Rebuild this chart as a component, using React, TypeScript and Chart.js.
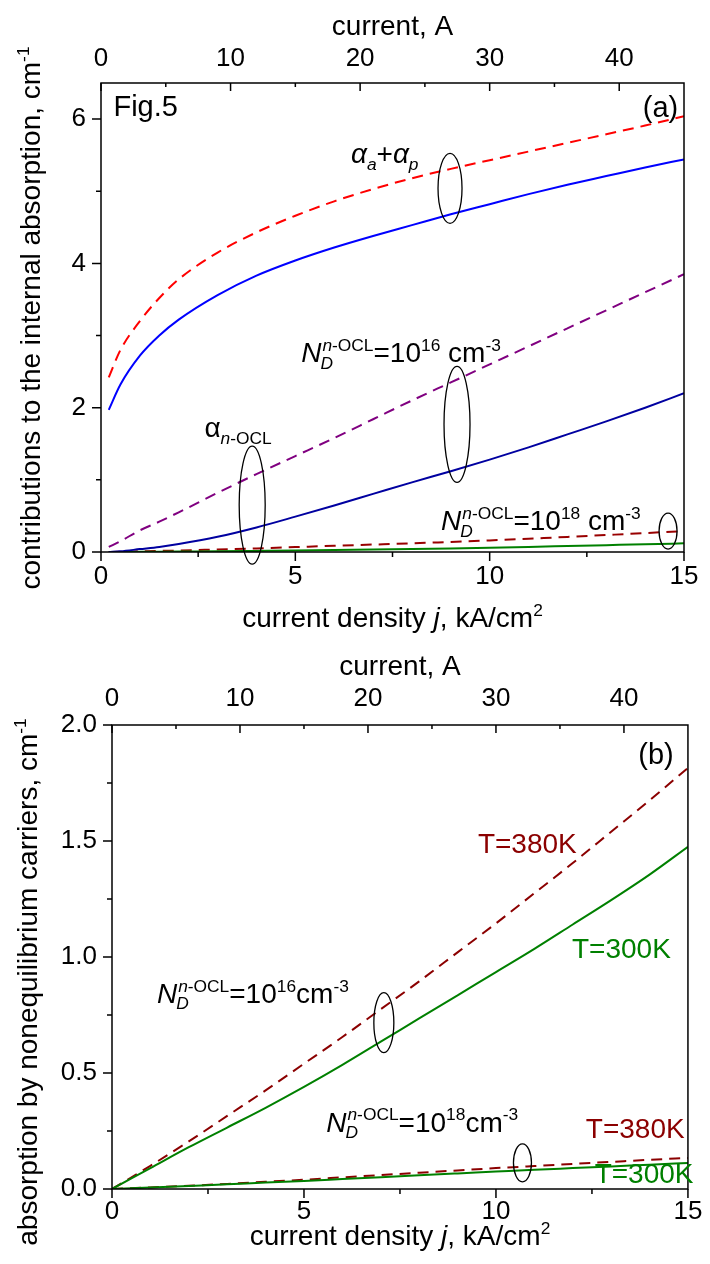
import React, { useEffect, useRef } from 'react';
import { Chart, registerables } from 'chart.js';

Chart.register(...registerables);

const FONT = "'Liberation Sans', Arial, Helvetica, sans-serif";
const TICK_SIZE = 26;
const TEXT_SIZE = 28;

// ---------- Panel (a) data: x = current density j, kA/cm^2 ----------
const jA = [0.2, 0.5, 1, 1.5, 2, 3, 4, 5, 6, 7, 8, 9, 10, 11, 12, 13, 14, 15];
const aTotalDashed = [2.42, 2.8, 3.2, 3.52, 3.78, 4.15, 4.43, 4.66, 4.86, 5.03, 5.18, 5.31, 5.43, 5.55, 5.67, 5.79, 5.91, 6.04];
const aTotalSolid = [1.97, 2.32, 2.72, 3.0, 3.22, 3.56, 3.83, 4.04, 4.22, 4.38, 4.53, 4.68, 4.82, 4.96, 5.09, 5.21, 5.33, 5.44];
const aN16Dashed = [0.07, 0.15, 0.3, 0.42, 0.55, 0.82, 1.08, 1.33, 1.58, 1.84, 2.1, 2.35, 2.6, 2.85, 3.1, 3.35, 3.6, 3.85];
const aN16Solid = [0, 0.01, 0.04, 0.07, 0.11, 0.21, 0.34, 0.49, 0.645, 0.805, 0.965, 1.12, 1.28, 1.45, 1.63, 1.81, 2.0, 2.2];
const aN18Dashed = [0, 0.005, 0.01, 0.015, 0.02, 0.035, 0.05, 0.068, 0.086, 0.103, 0.12, 0.14, 0.16, 0.184, 0.209, 0.235, 0.262, 0.29];
const aN18Solid = [0, 0, 0.002, 0.004, 0.006, 0.01, 0.015, 0.02, 0.026, 0.033, 0.041, 0.05, 0.06, 0.071, 0.083, 0.095, 0.107, 0.12];

// ---------- Panel (b) data ----------
const jB = [0, 1, 2, 3, 4, 5, 6, 7, 8, 9, 10, 11, 12, 13, 14, 15];
const b16T380 = [0, 0.1, 0.205, 0.315, 0.425, 0.54, 0.655, 0.775, 0.895, 1.02, 1.145, 1.275, 1.405, 1.54, 1.675, 1.815];
const b16T300 = [0, 0.09, 0.18, 0.265, 0.35, 0.44, 0.535, 0.635, 0.735, 0.835, 0.935, 1.035, 1.14, 1.245, 1.355, 1.475];
const b18T380 = [0, 0.007, 0.014, 0.022, 0.031, 0.04, 0.05, 0.06, 0.07, 0.08, 0.09, 0.099, 0.108, 0.117, 0.126, 0.134];
const b18T300 = [0, 0.006, 0.013, 0.02, 0.028, 0.035, 0.043, 0.051, 0.059, 0.067, 0.075, 0.083, 0.09, 0.097, 0.105, 0.112];

// ---------- Axis ticks ----------
const jMajor = [0, 5, 10, 15];
const jMinor = [2.5, 7.5, 12.5];
const curMajor = [0, 10, 20, 30, 40];
const curMinor = [5, 15, 25, 35];
const aYMajor = [0, 2, 4, 6];
const aYMinor = [1, 3, 5];
const bYMajor = [0, 0.5, 1.0, 1.5, 2.0];
const bYMinor = [0.25, 0.75, 1.25, 1.75];

// ---------- rich text ----------
type Seg = { t: string; it?: boolean; pos?: 'sub' | 'sup' };
type Stack = { stack: true; sub: Seg[]; sup: Seg[] };
type Item = Seg | Stack;

const SUBR = 0.62;
function segFont(s: Seg, base: number) {
  const size = s.pos ? base * SUBR : base;
  return `${s.it ? 'italic ' : ''}${size}px ${FONT}`;
}
function segDy(s: Seg, base: number) {
  return s.pos === 'sub' ? base * 0.24 : s.pos === 'sup' ? -base * 0.4 : 0;
}
function segsWidth(ctx: CanvasRenderingContext2D, segs: Seg[], base: number) {
  let w = 0;
  for (const s of segs) {
    ctx.font = segFont(s, base);
    w += ctx.measureText(s.t).width;
  }
  return w;
}
function itemsWidth(ctx: CanvasRenderingContext2D, items: Item[], base: number) {
  let w = 0;
  for (const it of items) {
    if ('stack' in it) w += Math.max(segsWidth(ctx, it.sub, base), segsWidth(ctx, it.sup, base));
    else w += segsWidth(ctx, [it], base);
  }
  return w;
}
function drawSegs(ctx: CanvasRenderingContext2D, segs: Seg[], x: number, y: number, base: number) {
  let cx = x;
  for (const s of segs) {
    ctx.font = segFont(s, base);
    ctx.fillText(s.t, cx, y + segDy(s, base));
    cx += ctx.measureText(s.t).width;
  }
  return cx - x;
}
function drawRich(
  ctx: CanvasRenderingContext2D,
  items: Item[],
  x: number,
  y: number,
  base: number,
  color: string,
  align: 'left' | 'center' | 'right'
) {
  const w = itemsWidth(ctx, items, base);
  let cx = align === 'center' ? x - w / 2 : align === 'right' ? x - w : x;
  ctx.save();
  ctx.fillStyle = color;
  ctx.textAlign = 'left';
  ctx.textBaseline = 'alphabetic';
  for (const it of items) {
    if ('stack' in it) {
      const w1 = drawSegs(ctx, it.sub, cx - 1, y, base);
      const w2 = drawSegs(ctx, it.sup, cx + 1, y, base);
      cx += Math.max(w1, w2) + 1;
    } else {
      cx += drawSegs(ctx, [it], cx, y, base);
    }
  }
  ctx.restore();
}

const nd = (exp: string, space: boolean): Item[] => [
  { t: 'N', it: true },
  {
    stack: true,
    sub: [{ t: 'D', it: true, pos: 'sub' }],
    sup: [{ t: 'n', it: true, pos: 'sup' }, { t: '-OCL', pos: 'sup' }],
  },
  { t: '=10' },
  { t: exp, pos: 'sup' },
  { t: space ? ' cm' : 'cm' },
  { t: '-3', pos: 'sup' },
];

type Note = { x: number; y: number; items: Item[]; align: 'left' | 'center' | 'right'; color: string; size: number };
type Ell = { x: number; y: number; rx: number; ry: number };

const DARKRED = '#8B0000';
const GREEN = '#008000';

const notesA: Note[] = [
  { x: 0.32, y: 6.045, items: [{ t: 'Fig.5' }], align: 'left', color: '#000', size: 29 },
  { x: 14.85, y: 6.03, items: [{ t: '(a)' }], align: 'right', color: '#000', size: 29 },
  {
    x: 6.43,
    y: 5.39,
    items: [
      { t: 'α', it: true },
      { t: 'a', it: true, pos: 'sub' },
      { t: '+' },
      { t: 'α', it: true },
      { t: 'p', it: true, pos: 'sub' },
    ],
    align: 'left',
    color: '#000',
    size: TEXT_SIZE,
  },
  { x: 5.15, y: 2.63, items: nd('16', true), align: 'left', color: '#000', size: TEXT_SIZE },
  {
    x: 2.66,
    y: 1.59,
    items: [{ t: 'α' }, { t: 'n', it: true, pos: 'sub' }, { t: '-OCL', pos: 'sub' }],
    align: 'left',
    color: '#000',
    size: TEXT_SIZE,
  },
  { x: 8.75, y: 0.3, items: nd('18', true), align: 'left', color: '#000', size: TEXT_SIZE },
];
const ellA: Ell[] = [
  { x: 8.98, y: 5.04, rx: 12, ry: 35 },
  { x: 9.16, y: 1.77, rx: 13, ry: 58 },
  { x: 3.89, y: 0.65, rx: 13, ry: 59 },
  { x: 14.59, y: 0.29, rx: 9, ry: 18 },
];

const notesB: Note[] = [
  { x: 14.63, y: 1.83, items: [{ t: '(b)' }], align: 'right', color: '#000', size: 29 },
  { x: 9.53, y: 1.45, items: [{ t: 'T=380K' }], align: 'left', color: DARKRED, size: TEXT_SIZE },
  { x: 11.98, y: 0.997, items: [{ t: 'T=300K' }], align: 'left', color: GREEN, size: TEXT_SIZE },
  { x: 1.17, y: 0.803, items: nd('16', false), align: 'left', color: '#000', size: TEXT_SIZE },
  { x: 5.58, y: 0.247, items: nd('18', false), align: 'left', color: '#000', size: TEXT_SIZE },
  { x: 12.34, y: 0.221, items: [{ t: 'T=380K' }], align: 'left', color: DARKRED, size: TEXT_SIZE },
  { x: 12.57, y: 0.027, items: [{ t: 'T=300K' }], align: 'left', color: GREEN, size: TEXT_SIZE },
];
const ellB: Ell[] = [
  { x: 7.08, y: 0.717, rx: 10, ry: 30 },
  { x: 10.69, y: 0.113, rx: 9, ry: 19 },
];

const xTitle: Item[] = [{ t: 'current density ' }, { t: 'j', it: true }, { t: ', kA/cm' }, { t: '2', pos: 'sup' }];
const topTitle: Item[] = [{ t: 'current, A' }];
const yTitleA: Item[] = [{ t: 'contributions to the internal absorption, cm' }, { t: '-1', pos: 'sup' }];
const yTitleB: Item[] = [{ t: 'absorption by nonequilibrium carriers, cm' }, { t: '-1', pos: 'sup' }];

type PanelSpec = {
  height: number;
  yMax: number;
  yStep: number;
  yFmt: (v: number) => string;
  yMajor: number[];
  yMinor: number[];
  left: number;
  right: number;
  topH: number;
  bottomH: number;
  padBottomTicks: number;
  padTopTicks: number;
  datasets: any[];
  notes: Note[];
  ellipses: Ell[];
  topTitleY: number;
  bottomTitleY: number;
  yTitle: Item[];
  yTitleX: number;
  yTitleCY: number;
};

function decorPlugin(spec: PanelSpec) {
  return {
    id: 'decor',
    afterDraw(chart: any) {
      const ctx: CanvasRenderingContext2D = chart.ctx;
      const area = chart.chartArea;
      const sx = chart.scales.x;
      const sx2 = chart.scales.x2;
      const sy = chart.scales.y;
      ctx.save();
      ctx.strokeStyle = '#000';
      ctx.lineWidth = 1.5;
      ctx.strokeRect(area.left, area.top, area.right - area.left, area.bottom - area.top);
      ctx.beginPath();
      for (const v of jMajor) {
        const p = sx.getPixelForValue(v);
        ctx.moveTo(p, area.bottom);
        ctx.lineTo(p, area.bottom + 9);
      }
      for (const v of jMinor) {
        const p = sx.getPixelForValue(v);
        ctx.moveTo(p, area.bottom);
        ctx.lineTo(p, area.bottom + 5);
      }
      for (const v of curMajor) {
        const p = sx2.getPixelForValue(v);
        ctx.moveTo(p, area.top);
        ctx.lineTo(p, area.top + 8);
      }
      for (const v of curMinor) {
        const p = sx2.getPixelForValue(v);
        ctx.moveTo(p, area.top);
        ctx.lineTo(p, area.top + 4);
      }
      for (const v of spec.yMajor) {
        const p = sy.getPixelForValue(v);
        ctx.moveTo(area.left, p);
        ctx.lineTo(area.left - 9, p);
      }
      for (const v of spec.yMinor) {
        const p = sy.getPixelForValue(v);
        ctx.moveTo(area.left, p);
        ctx.lineTo(area.left - 5, p);
      }
      ctx.stroke();

      ctx.lineWidth = 1.3;
      for (const e of spec.ellipses) {
        ctx.beginPath();
        ctx.ellipse(sx.getPixelForValue(e.x), sy.getPixelForValue(e.y), e.rx, e.ry, 0, 0, Math.PI * 2);
        ctx.stroke();
      }
      ctx.restore();

      for (const n of spec.notes) {
        drawRich(ctx, n.items, sx.getPixelForValue(n.x), sy.getPixelForValue(n.y), n.size, n.color, n.align);
      }
      const cx = (area.left + area.right) / 2;
      drawRich(ctx, topTitle, cx, spec.topTitleY, TEXT_SIZE, '#000', 'center');
      drawRich(ctx, xTitle, cx, spec.bottomTitleY, TEXT_SIZE, '#000', 'center');
      ctx.save();
      ctx.translate(spec.yTitleX, spec.yTitleCY);
      ctx.rotate(-Math.PI / 2);
      drawRich(ctx, spec.yTitle, 0, 0, TEXT_SIZE, '#000', 'center');
      ctx.restore();
    },
  };
}

function line(xs: number[], ys: number[], color: string, dashed: boolean) {
  return {
    data: xs.map((x, i) => ({ x, y: ys[i] })),
    borderColor: color,
    backgroundColor: color,
    borderWidth: 2,
    borderDash: dashed ? [11, 7] : [],
    pointRadius: 0,
    fill: false,
    cubicInterpolationMode: 'monotone',
    xAxisID: 'x',
    yAxisID: 'y',
  };
}

function Panel({ spec, top }: { spec: PanelSpec; top: number }) {
  const ref = useRef<HTMLCanvasElement>(null);
  useEffect(() => {
    const tickFont = { family: FONT, size: TICK_SIZE };
    const chart = new Chart(ref.current as HTMLCanvasElement, {
      type: 'line',
      data: { datasets: spec.datasets },
      options: {
        animation: false,
        responsive: false,
        devicePixelRatio: 1,
        layout: { padding: { left: 0, right: 710 - spec.right, top: 0, bottom: 0 } },
        plugins: { legend: { display: false }, tooltip: { enabled: false } },
        scales: {
          x: {
            type: 'linear',
            position: 'bottom',
            min: 0,
            max: 15,
            afterFit: (s: any) => {
              s.height = spec.bottomH;
            },
            grid: { display: false, drawTicks: false },
            border: { display: false },
            ticks: {
              stepSize: 5,
              includeBounds: false,
              padding: spec.padBottomTicks,
              color: '#000',
              font: tickFont,
              maxRotation: 0,
              autoSkip: false,
            },
          },
          x2: {
            type: 'linear',
            position: 'top',
            min: 0,
            max: 45,
            afterFit: (s: any) => {
              s.height = spec.topH;
            },
            grid: { display: false, drawTicks: false },
            border: { display: false },
            ticks: {
              stepSize: 10,
              includeBounds: false,
              padding: spec.padTopTicks,
              color: '#000',
              font: tickFont,
              maxRotation: 0,
              autoSkip: false,
            },
          },
          y: {
            type: 'linear',
            position: 'left',
            min: 0,
            max: spec.yMax,
            afterFit: (s: any) => {
              s.width = spec.left;
            },
            grid: { display: false, drawTicks: false },
            border: { display: false },
            ticks: {
              stepSize: spec.yStep,
              includeBounds: false,
              padding: 15,
              color: '#000',
              font: tickFont,
              callback: (v: any) => spec.yFmt(Number(v)),
            },
          },
        },
      } as any,
      plugins: [decorPlugin(spec) as any],
    });
    return () => chart.destroy();
  }, [spec]);
  return (
    <div style={{ position: 'absolute', left: 0, top, width: 710, height: spec.height }}>
      <canvas ref={ref} width={710} height={spec.height} style={{ width: 710, height: spec.height, display: 'block' }} />
    </div>
  );
}

const specA: PanelSpec = {
  height: 640,
  yMax: 6.5,
  yStep: 2,
  yFmt: (v) => String(v),
  yMajor: aYMajor,
  yMinor: aYMinor,
  left: 101,
  right: 684,
  topH: 83,
  bottomH: 88,
  padBottomTicks: 9.4,
  padTopTicks: 8.9,
  datasets: [
    line(jA, aTotalDashed, '#FF0000', true),
    line(jA, aTotalSolid, '#0000FF', false),
    line(jA, aN16Dashed, '#800080', true),
    line(jA, aN16Solid, '#0000A0', false),
    line(jA, aN18Solid, GREEN, false),
    line(jA, aN18Dashed, '#990000', true),
  ],
  notes: notesA,
  ellipses: ellA,
  topTitleY: 35,
  bottomTitleY: 627,
  yTitle: yTitleA,
  yTitleX: 40,
  yTitleCY: 318,
};

const specB: PanelSpec = {
  height: 624,
  yMax: 2,
  yStep: 0.5,
  yFmt: (v) => v.toFixed(1),
  yMajor: bYMajor,
  yMinor: bYMinor,
  left: 112,
  right: 693,
  topH: 85,
  bottomH: 75,
  padBottomTicks: 7.6,
  padTopTicks: 10.4,
  datasets: [
    line(jB, b16T300, GREEN, false),
    line(jB, b16T380, DARKRED, true),
    line(jB, b18T300, GREEN, false),
    line(jB, b18T380, DARKRED, true),
  ],
  notes: notesB,
  ellipses: ellB,
  topTitleY: 35,
  bottomTitleY: 605,
  yTitle: yTitleB,
  yTitleX: 37,
  yTitleCY: 342,
};

export default function App() {
  return (
    <div style={{ position: 'absolute', left: 0, top: 0, width: 710, height: 1264, background: '#fff' }}>
      <Panel spec={specA} top={0} />
      <Panel spec={specB} top={640} />
    </div>
  );
}
